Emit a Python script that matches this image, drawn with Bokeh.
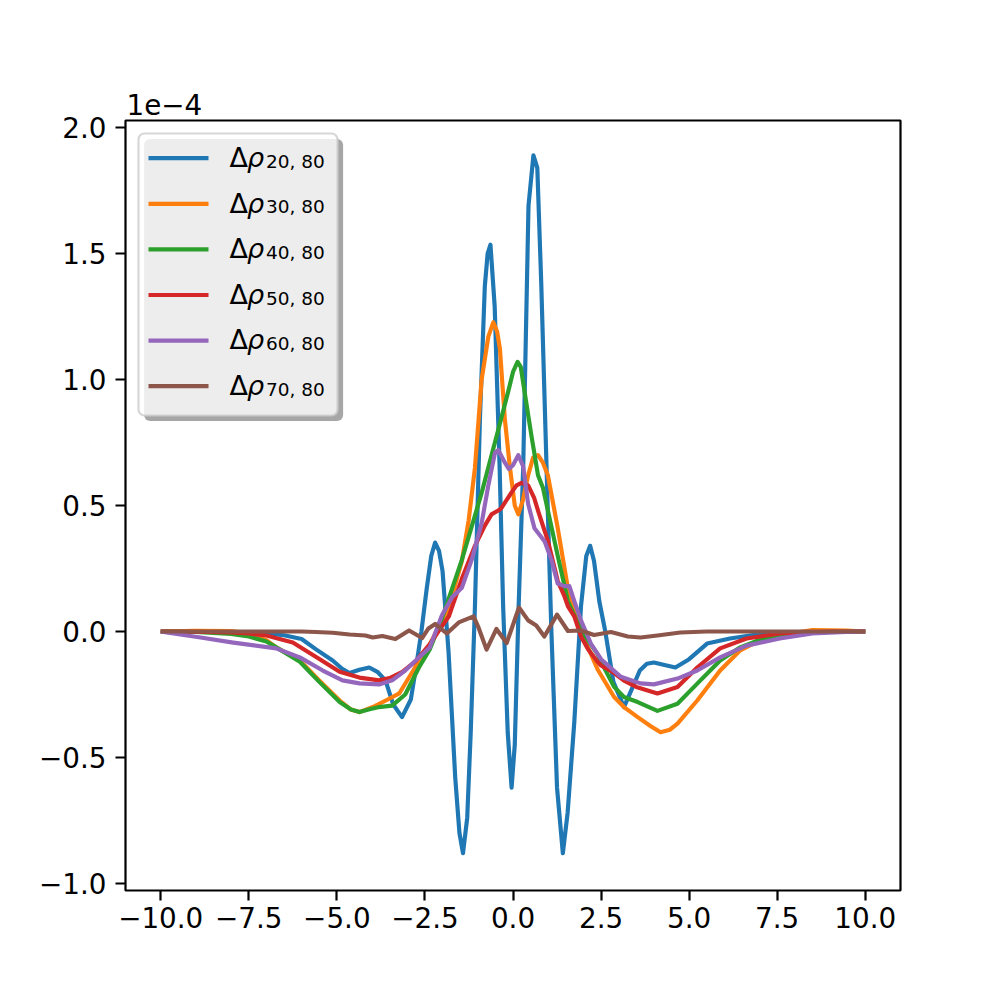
from bokeh.plotting import figure
from bokeh.models import (Range1d, FixedTicker, CustomJSTickFormatter, BoxAnnotation, Label)
from bokeh.embed import file_html
from bokeh.resources import INLINE

# ---------------- data (values in units of 1e-4) ----------------
labels_sub = ["20, 80", "30, 80", "40, 80", "50, 80", "60, 80", "70, 80"]
colors = ["#1f77b4", "#ff7f0e", "#2ca02c", "#d62728", "#9467bd", "#8c564b"]

x20 = [-10, -9, -8, -7.5, -7, -6.5, -6, -5.6, -5.12, -4.85, -4.64, -4.36, -4.08, -3.85, -3.62,
       -3.4, -3.15, -2.9, -2.75, -2.6, -2.45, -2.32, -2.21, -2.1, -2.0, -1.83, -1.64, -1.52,
       -1.42, -1.3, -1.2, -1.08, -0.94, -0.80, -0.72, -0.64, -0.52, -0.38, -0.28, -0.15, -0.04,
       0.05, 0.16, 0.29, 0.44, 0.58, 0.69, 0.80, 0.99, 1.09, 1.25, 1.415, 1.55, 1.74, 1.93,
       2.08, 2.19, 2.3, 2.45, 2.62, 2.85, 3.15, 3.4, 3.6, 3.8, 4.0, 4.3, 4.61, 5.0, 5.51,
       6.16, 7.1, 8, 9, 10]
y20 = [0, 0, -0.002, -0.004, -0.008, -0.015, -0.03, -0.07, -0.115, -0.148, -0.165, -0.152,
       -0.143, -0.16, -0.194, -0.29, -0.34, -0.27, -0.14, 0.0, 0.17, 0.30, 0.353, 0.32, 0.24,
       -0.08, -0.58, -0.80, -0.88, -0.74, -0.40, 0.10, 0.84, 1.37, 1.50, 1.535, 1.29, 0.655,
       0.10, -0.40, -0.62, -0.45, 0.10, 0.655, 1.69, 1.89, 1.84, 1.39, 0.47, 0.0, -0.62,
       -0.88, -0.72, -0.36, 0.10, 0.30, 0.34, 0.28, 0.12, 0.0, -0.20, -0.30, -0.22, -0.155,
       -0.128, -0.123, -0.133, -0.143, -0.11, -0.048, -0.028, -0.008, -0.002, 0, 0]

x30 = [-10, -9, -8, -7.5, -7, -6.72, -6.05, -5.5, -4.92, -4.6, -4.36, -3.98, -3.5, -3.23,
       -2.78, -2.36, -2.02, -1.82, -1.45, -1.26, -1.08, -0.89, -0.70, -0.56, -0.45, -0.37,
       -0.23, -0.09, 0.05, 0.15, 0.28, 0.43, 0.57, 0.71, 0.85, 0.99, 1.27, 1.56, 1.93, 2.4,
       2.87, 3.15, 3.54, 3.9, 4.19, 4.45, 4.67, 5.23, 5.88, 6.45, 7.1, 8.05, 8.5, 9.46, 10]
y30 = [0, 0.003, 0.002, -0.008, -0.035, -0.063, -0.115, -0.194, -0.274, -0.31, -0.32, -0.30,
       -0.266, -0.246, -0.143, -0.05, 0.04, 0.095, 0.28, 0.44, 0.65, 1.0, 1.17, 1.227, 1.19,
       1.12, 0.84, 0.655, 0.50, 0.465, 0.52, 0.62, 0.69, 0.70, 0.67, 0.62, 0.41, 0.17, 0.0,
       -0.15, -0.26, -0.30, -0.34, -0.375, -0.40, -0.39, -0.366, -0.274, -0.155, -0.075,
       -0.028, -0.004, 0.006, 0.004, 0]

x40 = [-10, -9, -8, -7.5, -7, -6.72, -6.05, -5.5, -4.92, -4.6, -4.36, -4.1, -3.8, -3.43,
       -3.06, -2.67, -2.36, -2.02, -1.45, -0.89, -0.42, -0.14, 0.0, 0.13, 0.22, 0.33, 0.52,
       0.71, 0.85, 0.99, 1.27, 1.56, 1.93, 2.4, 2.5, 2.87, 3.15, 3.54, 4.1, 4.67, 5.23, 5.88,
       6.45, 7.1, 8.05, 9, 10]
y40 = [0, -0.002, -0.01, -0.02, -0.04, -0.063, -0.12, -0.2, -0.28, -0.31, -0.32, -0.31,
       -0.30, -0.294, -0.25, -0.143, -0.07, 0.05, 0.285, 0.55, 0.80, 0.95, 1.03, 1.07, 1.05,
       0.95, 0.78, 0.62, 0.57, 0.48, 0.30, 0.12, 0.005, -0.09, -0.12, -0.22, -0.26, -0.28,
       -0.315, -0.287, -0.207, -0.115, -0.063, -0.028, -0.008, -0.002, 0]

x50 = [-10, -9, -8, -7.5, -7, -6.25, -5.6, -4.92, -4.36, -3.8, -3.5, -3.14, -2.78, -2.36,
       -2.02, -1.82, -1.45, -1.08, -0.8, -0.61, -0.42, -0.33, -0.05, 0.1, 0.24, 0.43, 0.6,
       0.71, 0.99, 1.27, 1.46, 1.56, 1.74, 1.93, 2.13, 2.4, 2.5, 2.87, 3.15, 3.5, 4.1, 4.67,
       5.23, 5.88, 6.63, 7.57, 9, 10]
y50 = [0, -0.001, -0.004, -0.008, -0.016, -0.044, -0.1, -0.16, -0.183, -0.194, -0.185,
       -0.16, -0.12, -0.05, 0.02, 0.06, 0.21, 0.34, 0.42, 0.465, 0.48, 0.49, 0.55, 0.58, 0.59,
       0.58, 0.53, 0.48, 0.36, 0.2, 0.14, 0.10, 0.06, -0.02, -0.07, -0.12, -0.135, -0.165,
       -0.195, -0.22, -0.246, -0.22, -0.143, -0.067, -0.028, -0.008, 0, 0]

x60 = [-10, -9.83, -8.87, -7.94, -6.72, -6.05, -5.4, -4.84, -4.36, -3.8, -3.43, -3.06, -2.67,
       -2.36, -2.02, -1.73, -1.45, -1.17, -0.89, -0.70, -0.51, -0.42, -0.23, -0.12, 0.0, 0.15,
       0.29, 0.43, 0.61, 0.90, 1.09, 1.27, 1.46, 1.6, 1.74, 1.93, 2.21, 2.5, 3.06, 3.62, 4.0,
       4.67, 5.23, 5.88, 6.63, 7.57, 8.5, 9.46, 10]
y60 = [0, -0.004, -0.024, -0.044, -0.067, -0.103, -0.155, -0.194, -0.206, -0.21, -0.194,
       -0.155, -0.103, -0.063, 0.063, 0.136, 0.174, 0.285, 0.43, 0.58, 0.71, 0.72, 0.67,
       0.645, 0.66, 0.70, 0.655, 0.506, 0.41, 0.357, 0.285, 0.19, 0.18, 0.18, 0.12, 0.044,
       -0.048, -0.11, -0.18, -0.206, -0.21, -0.187, -0.155, -0.103, -0.056, -0.028, -0.008,
       -0.002, 0]

x70 = [-10, -6, -5.6, -5.12, -4.64, -4.19, -3.98, -3.71, -3.34, -2.95, -2.58, -2.4, -2.21,
       -1.88, -1.54, -1.12, -0.98, -0.75, -0.47, -0.18, 0.17, 0.43, 0.66, 0.89, 1.25, 1.56,
       1.93, 2.3, 2.78, 3.26, 3.62, 4.1, 4.75, 5.5, 10]
y70 = [0, 0, -0.002, -0.005, -0.012, -0.016, -0.024, -0.018, -0.03, 0.004, -0.026, 0.012,
       0.03, -0.008, 0.036, 0.06, 0.016, -0.072, 0.01, -0.046, 0.095, 0.044, 0.024, -0.02,
       0.067, 0.002, 0.004, -0.014, -0.002, -0.02, -0.024, -0.016, -0.004, 0, 0]

series_x = [x20, x30, x40, x50, x60, x70]
series_y = [y20, y30, y40, y50, y60, y70]

x_ticks = [-10.0, -7.5, -5.0, -2.5, 0.0, 2.5, 5.0, 7.5, 10.0]
y_ticks = [-1.0, -0.5, 0.0, 0.5, 1.0, 1.5, 2.0]
offset_text = "1e\u22124"

# ---------------- figure ----------------
FONT = "DejaVu Sans"
FS = "27.8px"
LW = 4.17

p = figure(frame_width=775, frame_height=770,
           x_range=Range1d(-11.0, 11.0), y_range=Range1d(-1.028, 2.028),
           output_backend="svg", toolbar_location=None,
           min_border_left=125, min_border_top=120, min_border_right=92, min_border_bottom=94,
           background_fill_color="white", border_fill_color="white")

p.title.text = offset_text
p.title.align = "left"
p.title.text_font = FONT
p.title.text_font_size = FS
p.title.text_font_style = "normal"
p.title.text_color = "black"
p.title.standoff = 12
p.title.offset = 1

p.xgrid.visible = False
p.ygrid.visible = False
p.outline_line_color = "black"
p.outline_line_width = 2.2
p.outline_line_alpha = 1.0

fmt = CustomJSTickFormatter(code="return tick.toFixed(1).replace('-', '\u2212');")
for ax, ticks in ((p.xaxis, x_ticks), (p.yaxis, y_ticks)):
    ax.ticker = FixedTicker(ticks=ticks)
    ax.formatter = fmt
    ax.axis_line_color = None
    ax.major_tick_line_color = "black"
    ax.major_tick_line_width = 2.2
    ax.major_tick_out = 10
    ax.major_tick_in = 0
    ax.minor_tick_line_color = None
    ax.major_label_text_font = FONT
    ax.major_label_text_font_size = FS
    ax.major_label_text_color = "black"
p.xaxis.major_label_standoff = 6
p.yaxis.major_label_standoff = 9

for xs, ys, c in zip(series_x, series_y, colors):
    p.line(xs, ys, line_color=c, line_width=LW, line_join="round", line_cap="butt")

# ---------------- legend (drawn in screen units relative to the frame) ----------------
FL, FB = 125.0, 890.0   # frame left / bottom in page pixels
TXT_SHIFT = -10.0       # empirical correction of label baseline


def sx(px):
    return px - FL


def sy(py):
    return FB - py


shadow = BoxAnnotation(left=sx(143.6), right=sx(342.6), top=sy(138.6), bottom=sy(420.6),
                       left_units="screen", right_units="screen", top_units="screen",
                       bottom_units="screen", fill_color="#a6a6a6", fill_alpha=1.0,
                       line_color=None, border_radius=6)
frame_box = BoxAnnotation(left=sx(138), right=sx(337), top=sy(133), bottom=sy(415),
                          left_units="screen", right_units="screen", top_units="screen",
                          bottom_units="screen", fill_color="white", fill_alpha=0.8,
                          line_color="#cccccc", line_alpha=0.8, line_width=2.2,
                          border_radius=6)
p.add_layout(shadow)
p.add_layout(frame_box)

row0, drow = 157.7, 45.6
for i, (sub, c) in enumerate(zip(labels_sub, colors)):
    ly = row0 + i * drow
    p.add_layout(BoxAnnotation(left=sx(148), right=sx(208), top=sy(ly - 2.1), bottom=sy(ly + 2.1),
                               left_units="screen", right_units="screen", top_units="screen",
                               bottom_units="screen", fill_color=c, fill_alpha=1.0,
                               line_color=None))
    p.add_layout(Label(x=sx(229), y=sy(ly + 9.3 + TXT_SHIFT), x_units="screen", y_units="screen",
                       text="\u0394", text_font=FONT, text_font_size="27px",
                       text_color="black", text_baseline="alphabetic", text_align="left"))
    p.add_layout(Label(x=sx(246.5), y=sy(ly + 9.3 + TXT_SHIFT), x_units="screen", y_units="screen",
                       text="\u03c1", text_font=FONT, text_font_size="27px",
                       text_font_style="italic",
                       text_color="black", text_baseline="alphabetic", text_align="left"))
    p.add_layout(Label(x=sx(265.5), y=sy(ly + 13 + TXT_SHIFT), x_units="screen", y_units="screen",
                       text=sub, text_font=FONT, text_font_size="18.5px",
                       text_color="black", text_baseline="alphabetic", text_align="left"))

open("out.html", "w").write(file_html(p, INLINE))
